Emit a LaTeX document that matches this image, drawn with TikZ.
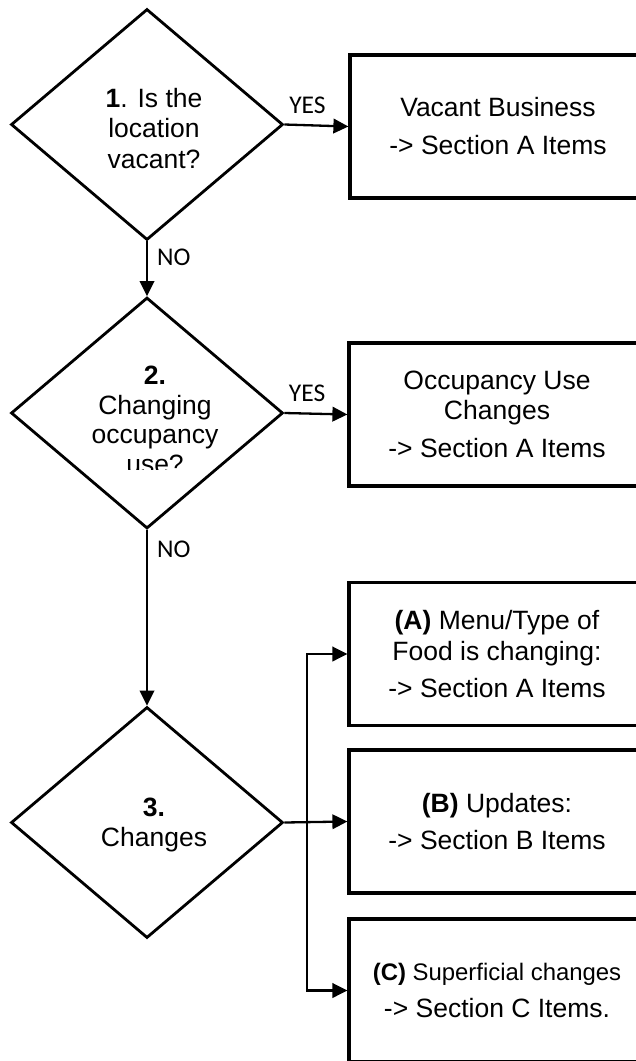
\documentclass[tikz,border=0pt]{standalone}
\usepackage{fontspec}
\setmainfont{Liberation Sans}
\newfontfamily\lblfont{Carlito}
\usetikzlibrary{shapes.geometric,arrows.meta}
\tikzset{
  dec/.style={draw, line width=2.8pt, shape=diamond, minimum width=272pt, minimum height=231pt, inner sep=0pt},
  boxnode/.style={draw, line width=3.2pt, minimum width=296pt, minimum height=143pt, align=center, inner sep=0pt,
    font=\fontsize{26.5}{30.5}\selectfont},
  dtext/.style={align=center, inner sep=0pt, font=\fontsize{26.5}{30.4}\selectfont},
  conn/.style={line width=2.3pt, -{Triangle[length=15pt,width=14.5pt]}},
  lbl/.style={font=\lblfont\fontsize{25.5}{28}\selectfont, inner sep=0pt},
}
\begin{document}
\begin{tikzpicture}[x=1pt,y=-1pt]
\useasboundingbox (0,0) rectangle (636,1061);
\fill[white] (0,0) rectangle (636,1061);
\begin{scope}
\clip (0,0) rectangle (636,1061);

% decisions
\node[dec] (d1) at (147,124.5) {};
\node[dec] (d2) at (147,413) {};
\node[dec] (d3) at (147,822.5) {};

\node[dtext] (t1) at (154,128.5) {\textbf{1}. Is the\\location\\vacant?};
\begin{scope}
\clip (0,0) rectangle (636,469);
\node[dtext, font=\fontsize{26.5}{29.5}\selectfont] (t2) at (155,420) {\textbf{2.}\\Changing\\occupancy\\use?};
\end{scope}
\node[dtext] (t3) at (154,825) {\textbf{3.}\\Changes};

% outcome boxes
\node[boxnode] (b1) at (498,126.5) {Vacant Business\\[7.5pt]-> Section A Items};
\node[boxnode] (b2) at (497,414.5) {Occupancy Use\\Changes\\[7.5pt]-> Section A Items};
\node[boxnode] (ba) at (497,654) {\textbf{(A)} Menu/Type of\\Food is changing:\\[6.5pt]-> Section A Items};
\node[boxnode] (bb) at (497,821.5) {\textbf{(B)} Updates:\\[6.5pt]-> Section B Items};
\node[boxnode] (bc) at (497,990.5) {{\fontsize{23.9}{27}\selectfont\textbf{(C)} Superficial changes}\\[6.5pt]-> Section C Items.};

% connectors
\draw[conn] (d1.east) -- node[lbl, pos=0.36, above=10.5pt] (yes1) {YES} (b1.west);
\draw[conn] (d1.south) -- node[lbl, pos=0.29, right=9pt] (no1) {NO} (d2.north);
\draw[conn] (d2.east) -- node[lbl, pos=0.36, above=10.5pt] (yes2) {YES} (b2.west);
\draw[conn] (d2.south) -- node[lbl, pos=0.11, right=9pt] (no2) {NO} (d3.north);
\draw[conn] (d3.east) -- (bb.west);
\coordinate (j) at (307,821.5);
\draw[conn] (j) |- (ba.west);
\draw[conn] (j) |- (bc.west);
\end{scope}
\end{tikzpicture}
\end{document}
